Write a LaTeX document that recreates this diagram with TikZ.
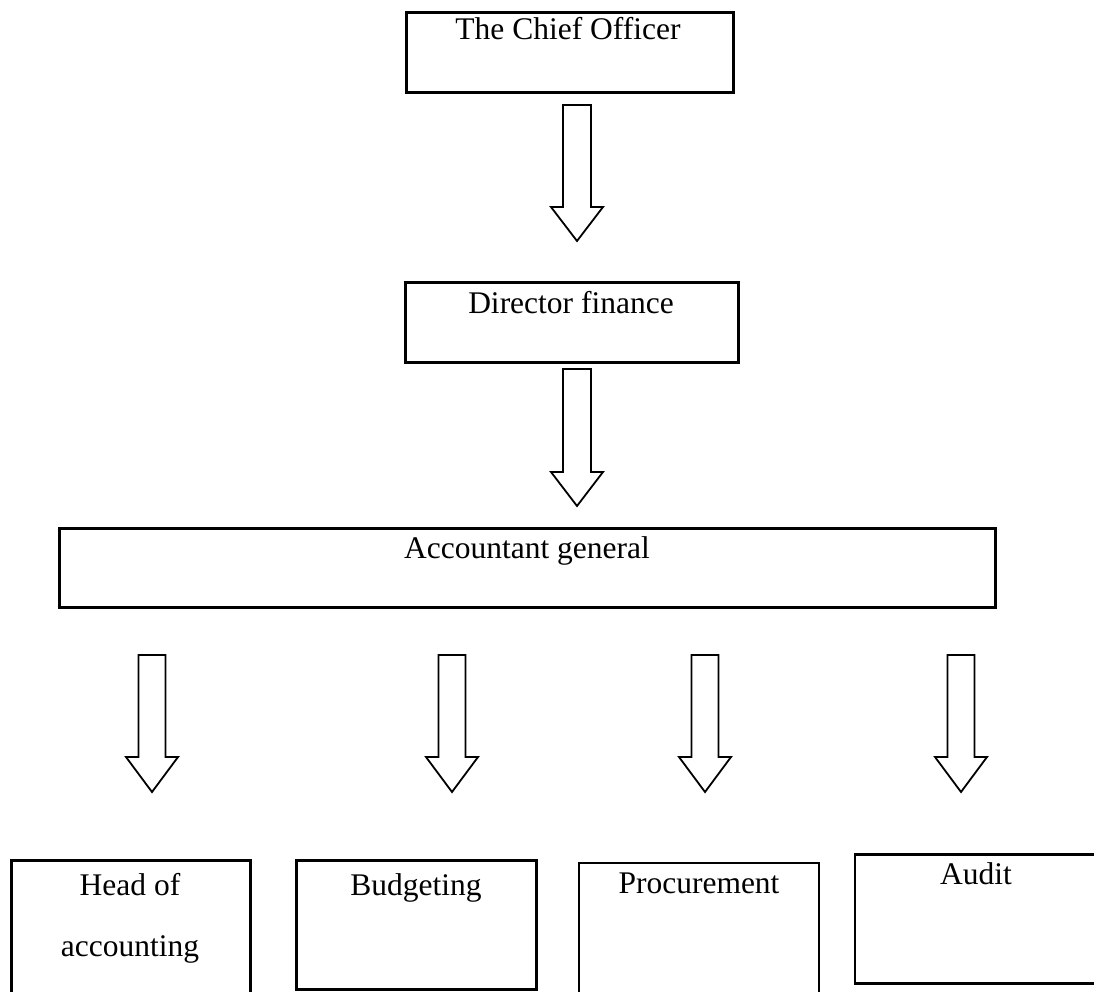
\documentclass[tikz,border=0pt]{standalone}
\usepackage{fontspec}
\setmainfont{Liberation Serif}
\begin{document}
\begin{tikzpicture}[x={(1pt,0)}, y={(0,-1pt)},
  box/.style={draw=black, line width=2.6pt, rectangle, inner sep=0pt},
  lbl/.style={inner sep=0pt, font=\fontsize{31.5}{61}\selectfont, align=center},
  arrowline/.style={draw=black, line width=1.8pt, line join=miter, fill=white},
  pics/blockarr/.style n args={4}{code={
    \draw[arrowline] (-#3,0) -- (#3,0) -- (#3,#1) -- (#4,#1) -- (0,{#1+#2}) -- (-#4,#1) -- (-#3,#1) -- cycle;
  }}]
\useasboundingbox (0,0) rectangle (1094,992);
\fill[white] (0,0) rectangle (1094,992);

% boxes
\node[box, minimum width=327pt, minimum height=80pt] (chief) at (570,52.5) {};
\node[box, minimum width=333pt, minimum height=80pt] (director) at (572,322.5) {};
\node[box, minimum width=936pt, minimum height=79pt] (accountant) at (527.5,568) {};
\node[box, minimum width=239pt, minimum height=150pt] (head) at (131,935.5) {};
\node[box, minimum width=240pt, minimum height=129pt] (budget) at (416.5,925) {};
\node[box, minimum width=240pt, minimum height=147pt] (procure) at (699,936.5) {};
\node[box, minimum width=243pt, minimum height=129pt] (audit) at (976.5,919) {};

% texts
\node[lbl, anchor=base] (chiefT) at (568,40) {The Chief Officer};
\node[lbl, anchor=base] (directorT) at (571,313) {Director finance};
\node[lbl, anchor=base] (accountantT) at (527,558) {Accountant general};
\node[lbl, anchor=north] (headT) at (130,873.5) {Head of\\accounting};
\node[lbl, anchor=base] (budgetT) at (416,895) {Budgeting};
\node[lbl, anchor=base] (procureT) at (699,893) {Procurement};
\node[lbl, anchor=base] (auditT) at (976,884) {Audit};

% block arrows
\pic at (577,105) {blockarr={102}{34}{14}{26}};
\pic at (577,369) {blockarr={103}{34}{14}{26}};
\pic at (152,655) {blockarr={102}{35}{13.5}{26}};
\pic at (452,655) {blockarr={102}{35}{13.5}{26}};
\pic at (705,655) {blockarr={102}{35}{13.5}{26}};
\pic at (961,655) {blockarr={102}{35}{13.5}{26}};
\end{tikzpicture}
\end{document}
